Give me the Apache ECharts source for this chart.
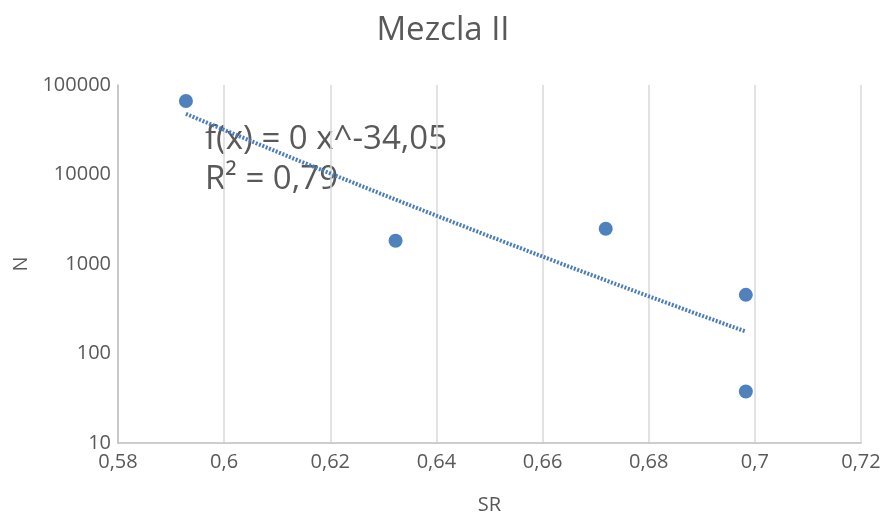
<!DOCTYPE html>
<html>
<head>
<meta charset="utf-8">
<script src="https://cdn.jsdelivr.net/npm/echarts@6/dist/echarts.min.js"></script>
<style>
  html, body { margin: 0; padding: 0; background: #fff; }
  #chart { width: 886px; height: 517px; }
</style>
</head>
<body>
<div id="chart"></div>
<script>
// Measured samples: SR against N
const srValues = [0.5928, 0.6323, 0.6719, 0.6983, 0.6983];
const nValues = [66200, 1820, 2480, 452, 37.6];
const xTicks = [0.58, 0.6, 0.62, 0.64, 0.66, 0.68, 0.7, 0.72];
const yTicks = [10, 100, 1000, 10000, 100000];
const fitLabel = ['f(x) = 0 x^-34,05', 'R² = 0,79'];

// Power-law trend (least squares in log-log space)
function powerFit(xs, ys) {
  const lx = xs.map(Math.log), ly = ys.map(Math.log);
  const n = xs.length;
  const mx = lx.reduce((a, b) => a + b, 0) / n;
  const my = ly.reduce((a, b) => a + b, 0) / n;
  let sxy = 0, sxx = 0;
  for (let i = 0; i < n; i++) {
    sxy += (lx[i] - mx) * (ly[i] - my);
    sxx += (lx[i] - mx) * (lx[i] - mx);
  }
  const b = sxy / sxx;
  const a = Math.exp(my - b * mx);
  return { a, b };
}
const fit = powerFit(srValues, nValues);
const xMin = Math.min(...srValues), xMax = Math.max(...srValues);
const trend = [];
const steps = 40;
for (let i = 0; i <= steps; i++) {
  const x = xMin + (xMax - xMin) * i / steps;
  trend.push([x, fit.a * Math.pow(x, fit.b)]);
}

const textColor = '#595959';
const chart = echarts.init(document.getElementById('chart'), null, { renderer: 'canvas' });
chart.setOption({
  animation: false,
  backgroundColor: '#ffffff',
  title: {
    text: 'Mezcla II',
    left: 'center',
    top: 9,
    textStyle: { fontFamily: 'Open Sans', fontSize: 33, fontWeight: 'normal', color: textColor }
  },
  grid: { left: 118, right: 25, top: 85, bottom: 74, containLabel: false, outerBoundsMode: 'none' },
  xAxis: {
    type: 'value',
    min: 0.58, max: 0.72, interval: 0.02,
    name: 'SR', nameLocation: 'middle', nameGap: 52,
    nameTextStyle: { fontFamily: 'Open Sans', fontSize: 20, color: textColor },
    axisLine: { show: true, lineStyle: { color: '#bfbfbf', width: 1.5 } },
    axisTick: { show: false },
    axisLabel: {
      fontFamily: 'Open Sans', fontSize: 20, color: textColor, margin: 9,
      formatter: v => {
        const t = xTicks.find(k => Math.abs(k - v) < 1e-9);
        return t === undefined ? '' : String(t).replace('.', ',');
      }
    },
    splitLine: { show: true, lineStyle: { color: '#d9d9d9', width: 1.5 } }
  },
  yAxis: {
    type: 'log', logBase: 10,
    min: yTicks[0], max: yTicks[yTicks.length - 1],
    name: 'N', nameLocation: 'middle', nameGap: 84, nameRotate: 90,
    nameTextStyle: { fontFamily: 'Open Sans', fontSize: 20, color: textColor },
    axisLine: { show: true, lineStyle: { color: '#bfbfbf', width: 1.5 } },
    axisTick: { show: false },
    axisLabel: {
      fontFamily: 'Open Sans', fontSize: 20, color: textColor, margin: 7,
      formatter: v => String(Math.round(v))
    },
    splitLine: { show: false }
  },
  series: [
    {
      type: 'line',
      data: trend,
      showSymbol: false,
      smooth: false,
      lineStyle: { color: '#4a7dbb', width: 4, type: [2, 1.6] },
      z: 2,
      silent: true
    },
    {
      type: 'scatter',
      data: srValues.map((x, i) => [x, nValues[i]]),
      symbolSize: 14,
      itemStyle: { color: '#4f81bd', opacity: 1 },
      z: 3
    }
  ],
  graphic: [
    {
      type: 'text', left: 205, top: 123,
      style: { text: fitLabel[0], font: '33px "Open Sans"', fill: textColor }
    },
    {
      type: 'text', left: 205, top: 163,
      style: { text: fitLabel[1], font: '33px "Open Sans"', fill: textColor }
    }
  ]
});
</script>
</body>
</html>
